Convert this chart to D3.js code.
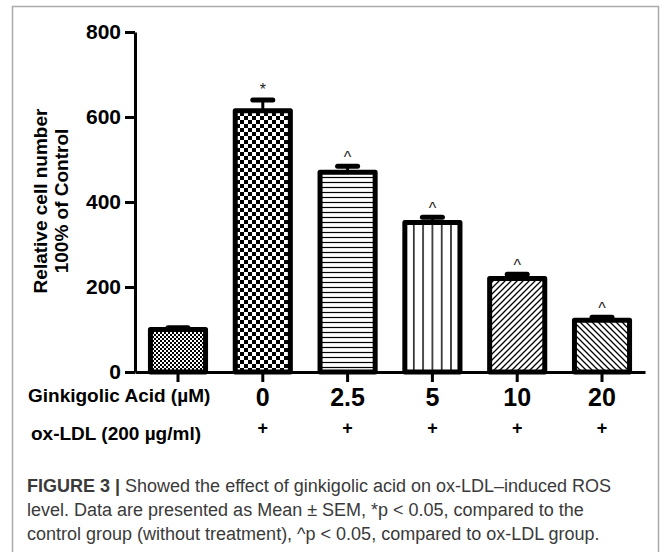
<!DOCTYPE html>
<html lang="en">
<head>
  <meta charset="UTF-8" />
  <title>Figure 3</title>
  <style>
    body {
      margin: 0;
      background-color: white;
      font-family: "Liberation Sans", Arial, Helvetica, sans-serif;
    }

    .axis path,
    .axis line {
      stroke: #000;
      stroke-width: 3;
    }

    .axis text {
      font-size: 21px;
      font-weight: 700;
      fill: #000;
    }

    .caption {
      font-size: 18px;
      fill: #3a3a3a;
    }
  </style>
</head>
<body>
  <svg width="663" height="552"></svg>

  <script src="https://d3js.org/d3.v7.min.js"></script>
  <script>
    // values
    const groups = ["Control", "0", "2.5", "5", "10", "20"];
    const doseLabels = ["", "0", "2.5", "5", "10", "20"];
    const oxLdlLabels = ["", "+", "+", "+", "+", "+"];
    const means = [100, 615, 470, 352, 220, 122];
    const sems = [4, 25, 14, 12, 10, 7];
    const sigMarks = ["", "*", "^", "^", "^", "^"];
    const fills = ["checkSmall", "checkLarge", "hLines", "vLines", "diagUp", "diagDown"];
    const yTicks = [0, 200, 400, 600, 800];

    const captionLines = [
      ["FIGURE 3 | ", "Showed the effect of ginkigolic acid on ox-LDL\u2013induced ROS"],
      ["", "level. Data are presented as Mean \u00b1 SEM, *p < 0.05, compared to the"],
      ["", "control group (without treatment), ^p < 0.05, compared to ox-LDL group."]
    ];

    const svg = d3.select("svg");

    // light frame round the figure
    svg.append("rect")
      .attr("x", 12.5).attr("y", 6.5)
      .attr("width", 646).attr("height", 570)
      .attr("fill", "none")
      .attr("stroke", "#aaa")
      .attr("stroke-width", 1.5);

    // fill patterns
    const defs = svg.append("defs");

    const p1 = defs.append("pattern").attr("id", "checkSmall")
      .attr("patternUnits", "userSpaceOnUse").attr("width", 4).attr("height", 4);
    p1.append("rect").attr("width", 4).attr("height", 4).attr("fill", "#fff");
    p1.append("rect").attr("width", 2).attr("height", 2).attr("fill", "#000");
    p1.append("rect").attr("x", 2).attr("y", 2).attr("width", 2).attr("height", 2).attr("fill", "#000");

    const p2 = defs.append("pattern").attr("id", "checkLarge")
      .attr("patternUnits", "userSpaceOnUse").attr("width", 8).attr("height", 8);
    p2.append("rect").attr("width", 8).attr("height", 8).attr("fill", "#fff");
    p2.append("rect").attr("width", 4).attr("height", 4).attr("fill", "#000");
    p2.append("rect").attr("x", 4).attr("y", 4).attr("width", 4).attr("height", 4).attr("fill", "#000");

    const p3 = defs.append("pattern").attr("id", "hLines")
      .attr("patternUnits", "userSpaceOnUse").attr("width", 10).attr("height", 5);
    p3.append("rect").attr("width", 10).attr("height", 5).attr("fill", "#fff");
    p3.append("line").attr("x1", 0).attr("x2", 10).attr("y1", 2.5).attr("y2", 2.5)
      .attr("stroke", "#000").attr("stroke-width", 1.2);

    const p4 = defs.append("pattern").attr("id", "vLines")
      .attr("patternUnits", "userSpaceOnUse").attr("width", 9.3).attr("height", 10);
    p4.append("rect").attr("width", 9.3).attr("height", 10).attr("fill", "#fff");
    p4.append("line").attr("x1", 4.6).attr("x2", 4.6).attr("y1", 0).attr("y2", 10)
      .attr("stroke", "#000").attr("stroke-width", 1.4);

    const p5 = defs.append("pattern").attr("id", "diagUp")
      .attr("patternUnits", "userSpaceOnUse").attr("width", 6).attr("height", 6);
    p5.append("rect").attr("width", 6).attr("height", 6).attr("fill", "#fff");
    p5.append("path").attr("d", "M-1,1 L1,-1 M0,6 L6,0 M5,7 L7,5")
      .attr("stroke", "#000").attr("stroke-width", 1.3);

    const p6 = defs.append("pattern").attr("id", "diagDown")
      .attr("patternUnits", "userSpaceOnUse").attr("width", 6).attr("height", 6);
    p6.append("rect").attr("width", 6).attr("height", 6).attr("fill", "#fff");
    p6.append("path").attr("d", "M-1,5 L1,7 M0,0 L6,6 M5,-1 L7,1")
      .attr("stroke", "#000").attr("stroke-width", 1.3);

    // scales
    const x = d3.scaleBand()
      .domain(groups)
      .range([135, 645])
      .paddingInner(0.35)
      .paddingOuter(0.182);

    const y = d3.scaleLinear()
      .domain([0, 800])
      .range([372, 32]);

    const rows = groups.map((g, i) => ({
      group: g, mean: means[i], sem: sems[i], mark: sigMarks[i], fill: fills[i],
      dose: doseLabels[i], ox: oxLdlLabels[i]
    }));

    // bars
    svg.append("g")
      .selectAll("rect")
      .data(rows)
      .join("rect")
        .attr("x", d => x(d.group))
        .attr("y", d => y(d.mean))
        .attr("width", x.bandwidth())
        .attr("height", d => y(0) - y(d.mean))
        .attr("fill", d => `url(#${d.fill})`)
        .attr("stroke", "#000")
        .attr("stroke-width", 5)
        .attr("stroke-linejoin", "round");

    // error bars (upper half only)
    const err = svg.append("g");
    err.selectAll("line.stem")
      .data(rows)
      .join("line")
        .attr("class", "stem")
        .attr("x1", d => x(d.group) + x.bandwidth() / 2)
        .attr("x2", d => x(d.group) + x.bandwidth() / 2)
        .attr("y1", d => y(d.mean))
        .attr("y2", d => y(d.mean + d.sem))
        .attr("stroke", "#000")
        .attr("stroke-width", 3);
    err.selectAll("line.cap")
      .data(rows)
      .join("line")
        .attr("class", "cap")
        .attr("x1", d => x(d.group) + x.bandwidth() / 2 - 10)
        .attr("x2", d => x(d.group) + x.bandwidth() / 2 + 10)
        .attr("y1", d => y(d.mean + d.sem))
        .attr("y2", d => y(d.mean + d.sem))
        .attr("stroke", "#000")
        .attr("stroke-width", 5)
        .attr("stroke-linecap", "round");

    // significance marks
    svg.append("g")
      .selectAll("text")
      .data(rows.filter(d => d.mark))
      .join("text")
        .attr("x", d => x(d.group) + x.bandwidth() / 2)
        .attr("y", d => y(d.mean + d.sem) - (d.mark === "*" ? 5 : 3))
        .attr("text-anchor", "middle")
        .style("font-size", "16px")
        .style("fill", "#222")
        .text(d => d.mark);

    // axes
    svg.append("g")
      .attr("class", "axis")
      .attr("transform", "translate(135,0)")
      .call(d3.axisLeft(y).tickValues(yTicks).tickSize(10).tickSizeOuter(0).tickPadding(4));

    svg.append("g")
      .attr("class", "axis")
      .attr("transform", `translate(0,${y(0)})`)
      .call(d3.axisBottom(x).tickSize(10).tickSizeOuter(0).tickFormat(""));

    // y label
    const yLabel = svg.append("text")
      .attr("transform", "translate(47,201) rotate(-90)")
      .attr("text-anchor", "middle")
      .style("font-size", "19px")
      .style("font-weight", "700");
    yLabel.append("tspan").attr("x", 0).attr("y", 0).text("Relative cell number");
    yLabel.append("tspan").attr("x", 0).attr("y", 21).text("100% of Control");

    // treatment rows under the axis
    const center = d => x(d.group) + x.bandwidth() / 2;

    svg.append("text")
      .attr("x", 28).attr("y", 402)
      .style("font-size", "19px").style("font-weight", "700")
      .text("Ginkigolic Acid (\u00b5M)");

    svg.append("g")
      .selectAll("text")
      .data(rows.filter(d => d.dose))
      .join("text")
        .attr("x", center)
        .attr("y", 406)
        .attr("text-anchor", "middle")
        .style("font-size", "25px")
        .style("font-weight", "700")
        .text(d => d.dose);

    svg.append("text")
      .attr("x", 31).attr("y", 440)
      .style("font-size", "19px").style("font-weight", "700")
      .text("ox-LDL (200 \u00b5g/ml)");

    svg.append("g")
      .selectAll("text")
      .data(rows.filter(d => d.ox))
      .join("text")
        .attr("x", center)
        .attr("y", 434)
        .attr("text-anchor", "middle")
        .style("font-size", "18px")
        .style("font-weight", "700")
        .text(d => d.ox);

    // caption
    const cap = svg.append("g").attr("class", "caption");
    captionLines.forEach((line, i) => {
      const t = cap.append("text").attr("x", 27).attr("y", 492 + i * 24);
      if (line[0]) t.append("tspan").style("font-weight", "700").text(line[0]);
      t.append("tspan").text(line[1]);
    });
  </script>
</body>
</html>
